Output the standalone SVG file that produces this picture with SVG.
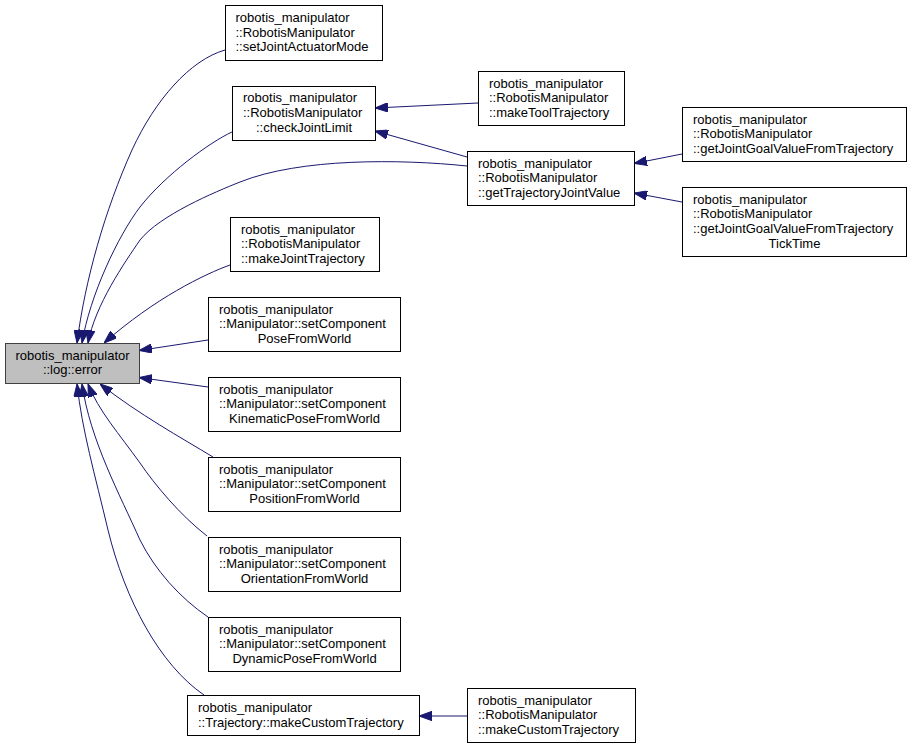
<svg xmlns="http://www.w3.org/2000/svg" width="912" height="749" viewBox="0 0 912 749">
<style>
.box{fill:#ffffff;stroke:#000000;stroke-width:1}
.main{fill:#bfbfbf;stroke:#404040;stroke-width:1}
text{font-family:"Liberation Sans",Arial,Helvetica,sans-serif;font-size:13px;fill:#000000}
.c{text-anchor:middle}
.e{fill:none;stroke:#191970;stroke-width:1;marker-end:url(#ah)}
</style>
<defs>
<marker id="ah" viewBox="0 0 13 9.4" refX="13" refY="4.7" markerWidth="13" markerHeight="9.4" markerUnits="userSpaceOnUse" orient="auto">
<path d="M0,0 L13,4.7 L0,9.4 z" fill="#191970" stroke="#191970" stroke-width="1"/>
</marker>
</defs>
<rect width="912" height="749" fill="#ffffff"/>
<g id="edges">
<path class="e" d="M225,50 C190,60 155,100 132,150 C105,210 85,280 77,343"/>
<path class="e" d="M232,132 C210,142 165,175 140,207 C118,236 90,295 82,343"/>
<path class="e" d="M467,166 C400,159 300,158 240,182 C215,192 160,215 140,240 C125,262 95,305 88,343"/>
<path class="e" d="M230,265 C205,274 155,298 104,343"/>
<path class="e" d="M208,340 L139,350.5"/>
<path class="e" d="M208,387 L139,377.5"/>
<path class="e" d="M213,457 C180,437 140,415 100,384"/>
<path class="e" d="M207,536 C180,515 155,485 140,463 C120,435 98,410 88,384"/>
<path class="e" d="M208,617 C180,598 155,570 140,540 C120,495 90,440 82,384"/>
<path class="e" d="M204,695 C160,665 125,600 108,530 C95,475 82,430 77,384"/>
<path class="e" d="M478,103 L375,108"/>
<path class="e" d="M467,157 L375,131"/>
<path class="e" d="M682,154 L634,163.5"/>
<path class="e" d="M682,202 L634,193"/>
<path class="e" d="M467,716 L419,716"/>
</g>
<g id="main">
<rect class="main" x="5.5" y="343.5" width="134" height="40"/>
<text class="c" x="72.5" y="359.5">robotis_manipulator</text>
<text class="c" x="72.5" y="374">::log::error</text>
</g>
<g id="n1">
<rect class="box" x="225.5" y="5.5" width="157" height="55"/>
<text x="235.5" y="22">robotis_manipulator</text>
<text x="235.5" y="36.7">::RobotisManipulator</text>
<text x="235.5" y="51.4">::setJointActuatorMode</text>
</g>
<g id="n2">
<rect class="box" x="232.5" y="86.5" width="143" height="54"/>
<text x="243" y="102.3">robotis_manipulator</text>
<text x="243" y="117">::RobotisManipulator</text>
<text class="c" x="304" y="131.7">::checkJointLimit</text>
</g>
<g id="n3">
<rect class="box" x="478.5" y="71.5" width="146" height="54"/>
<text x="489" y="87.5">robotis_manipulator</text>
<text x="489" y="102.2">::RobotisManipulator</text>
<text x="489" y="116.9">::makeToolTrajectory</text>
</g>
<g id="n4">
<rect class="box" x="467.5" y="151.5" width="167" height="54"/>
<text x="478" y="167.5">robotis_manipulator</text>
<text x="478" y="182.2">::RobotisManipulator</text>
<text x="478" y="196.9">::getTrajectoryJointValue</text>
</g>
<g id="n5">
<rect class="box" x="682.5" y="107.5" width="224" height="54"/>
<text x="693" y="123.5">robotis_manipulator</text>
<text x="693" y="138.2">::RobotisManipulator</text>
<text x="693" y="152.9">::getJointGoalValueFromTrajectory</text>
</g>
<g id="n6">
<rect class="box" x="682.5" y="187.5" width="224" height="69"/>
<text x="693" y="203.7">robotis_manipulator</text>
<text x="693" y="218.4">::RobotisManipulator</text>
<text x="693" y="233.1">::getJointGoalValueFromTrajectory</text>
<text class="c" x="794.5" y="247.8">TickTime</text>
</g>
<g id="n7">
<rect class="box" x="230.5" y="217.5" width="149" height="54"/>
<text x="241" y="233.5">robotis_manipulator</text>
<text x="241" y="248.2">::RobotisManipulator</text>
<text x="241" y="262.9">::makeJointTrajectory</text>
</g>
<g id="n8">
<rect class="box" x="208.5" y="297.5" width="192" height="54"/>
<text x="219" y="313.5">robotis_manipulator</text>
<text x="219" y="328.2">::Manipulator::setComponent</text>
<text class="c" x="304.5" y="342.9">PoseFromWorld</text>
</g>
<g id="n9">
<rect class="box" x="208.5" y="377.5" width="192" height="54"/>
<text x="219" y="393.5">robotis_manipulator</text>
<text x="219" y="408.2">::Manipulator::setComponent</text>
<text class="c" x="304.5" y="422.9">KinematicPoseFromWorld</text>
</g>
<g id="n10">
<rect class="box" x="208.5" y="457.5" width="192" height="54"/>
<text x="219" y="473.5">robotis_manipulator</text>
<text x="219" y="488.2">::Manipulator::setComponent</text>
<text class="c" x="304.5" y="502.9">PositionFromWorld</text>
</g>
<g id="n11">
<rect class="box" x="208.5" y="537.5" width="192" height="54"/>
<text x="219" y="553.5">robotis_manipulator</text>
<text x="219" y="568.2">::Manipulator::setComponent</text>
<text class="c" x="304.5" y="582.9">OrientationFromWorld</text>
</g>
<g id="n12">
<rect class="box" x="208.5" y="617.5" width="192" height="54"/>
<text x="219" y="633.5">robotis_manipulator</text>
<text x="219" y="648.2">::Manipulator::setComponent</text>
<text class="c" x="304.5" y="662.9">DynamicPoseFromWorld</text>
</g>
<g id="n13">
<rect class="box" x="187.5" y="695.5" width="232" height="40"/>
<text x="198" y="711.9">robotis_manipulator</text>
<text x="198" y="726.6">::Trajectory::makeCustomTrajectory</text>
</g>
<g id="n14">
<rect class="box" x="467.5" y="688.5" width="168" height="54"/>
<text x="478" y="704.5">robotis_manipulator</text>
<text x="478" y="719.2">::RobotisManipulator</text>
<text x="478" y="733.9">::makeCustomTrajectory</text>
</g>
</svg>
